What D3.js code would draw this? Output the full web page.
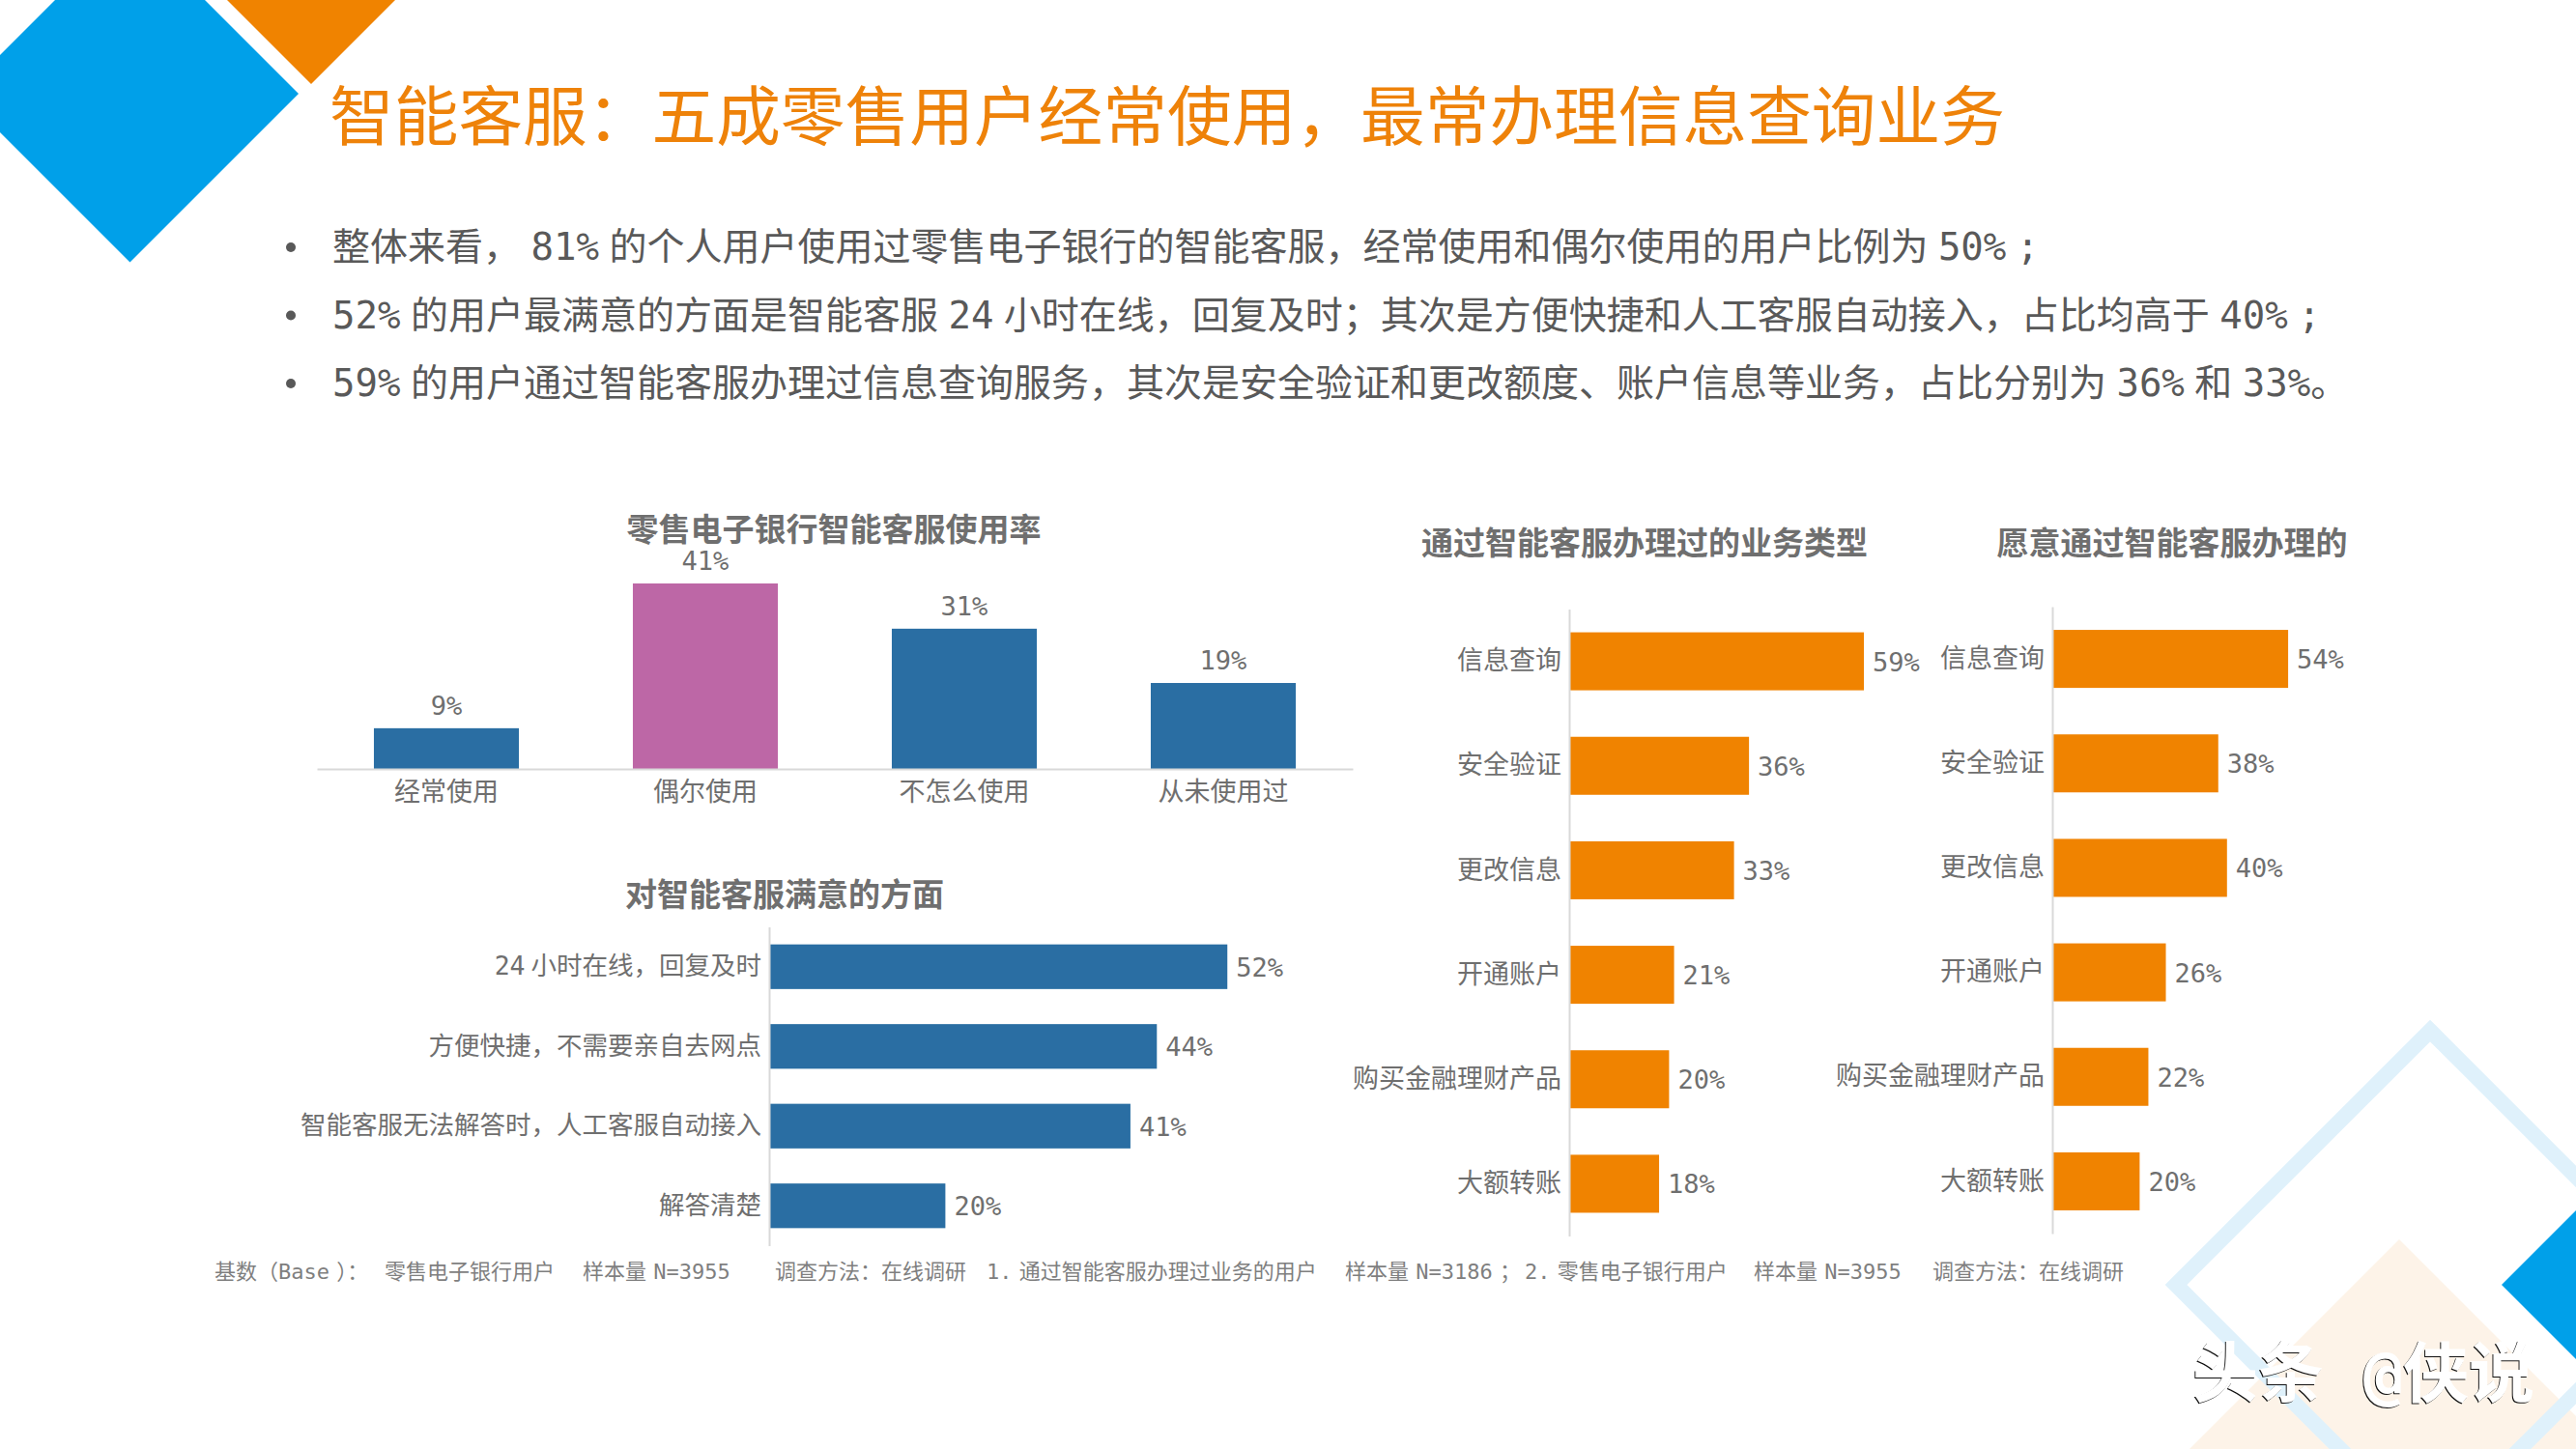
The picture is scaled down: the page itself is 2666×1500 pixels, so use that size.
<!DOCTYPE html>
<html>
<head>
<meta charset="utf-8">
<script src="https://cdn.jsdelivr.net/npm/d3@7"></script>
<style>
body { margin: 0; background: #fff; }
svg { display: block; }
text { font-family: "DejaVu Sans Mono", "Noto Sans CJK SC", sans-serif; white-space: pre; }
</style>
</head>
<body>
<div id="canvasArea"></div>
<script>
var titleText = "智能客服：五成零售用户经常使用，最常办理信息查询业务";
var bulletLines = [
	"整体来看， 81% 的个人用户使用过零售电子银行的智能客服，经常使用和偶尔使用的用户比例为 50% ;",
	"52% 的用户最满意的方面是智能客服 24 小时在线，回复及时；其次是方便快捷和人工客服自动接入，占比均高于 40% ;",
	"59% 的用户通过智能客服办理过信息查询服务，其次是安全验证和更改额度、账户信息等业务，占比分别为 36% 和 33%。"
];
var noteParts = [
	"基数（Base ）：",
	"零售电子银行用户",
	"样本量 N=3955",
	"调查方法：在线调研",
	"1. 通过智能客服办理过业务的用户",
	"样本量 N=3186 ；",
	"2. 零售电子银行用户",
	"样本量 N=3955",
	"调查方法：在线调研"
];

var usageCats = ["经常使用", "偶尔使用", "不怎么使用", "从未使用过"];
var usageVals = [9, 41, 31, 19];

var satisfyCats = ["24 小时在线，回复及时", "方便快捷，不需要亲自去网点", "智能客服无法解答时，人工客服自动接入", "解答清楚"];
var satisfyVals = [52, 44, 41, 20];

var bizCats = ["信息查询", "安全验证", "更改信息", "开通账户", "购买金融理财产品", "大额转账"];
var doneVals = [59, 36, 33, 21, 20, 18];
var willVals = [54, 38, 40, 26, 22, 20];

var width = 2666, height = 1500;
var BLUE = "#2a6ea3", PINK = "#bd67a6", ORANGE = "#f08300", SKY = "#00a0e9";
var GREY = "#6f6f6f", DARK = "#595959", AXIS = "#d9d9d9";
var MONO = "\"DejaVu Sans Mono\", \"Noto Sans CJK SC\", sans-serif";

var svg = d3.select("#canvasArea").append("svg")
	.attr("width", width)
	.attr("height", height);

function diamond(cx, cy, r) {
	return [[cx, cy - r], [cx + r, cy], [cx, cy + r], [cx - r, cy]].join(" ");
}

// background shapes
var deco = svg.append("g");
deco.append("polygon").attr("points", diamond(2483, 1533, 250)).attr("fill", "#fdf3e8");
deco.append("polygon").attr("points", diamond(2515, 1330, 263))
	.attr("fill", "none").attr("stroke", "#dff1fb").attr("stroke-width", 16);
deco.append("polygon").attr("points", diamond(2669, 1330, 80)).attr("fill", SKY);
deco.append("polygon").attr("points", diamond(134.5, 97, 174.5)).attr("fill", SKY);
deco.append("polygon").attr("points", diamond(322, -88, 175)).attr("fill", ORANGE);

svg.append("text")
	.attr("x", 341).attr("y", 145)
	.attr("font-size", 66.7)
	.attr("fill", "#ee8209")
	.text(titleText);

var bullets = svg.append("g").selectAll("g")
	.data(bulletLines)
	.enter().append("g")
	.attr("transform", function(d, i) { return "translate(0," + (269 + i * 70.5) + ")"; });

bullets.append("circle").attr("cx", 301).attr("cy", -13).attr("r", 5).attr("fill", DARK);
bullets.append("text")
	.attr("x", 344)
	.attr("font-size", 39)
	.attr("word-spacing", -13)
	.attr("fill", DARK)
	.text(function(d) { return d; });

function subTitle(text, cx, y) {
	svg.append("text")
		.attr("x", cx).attr("y", y)
		.attr("text-anchor", "middle")
		.attr("font-size", 33)
		.attr("font-weight", "bold")
		.attr("fill", GREY)
		.text(text);
}

subTitle("零售电子银行智能客服使用率", 863, 560);
subTitle("对智能客服满意的方面", 812, 938);
subTitle("通过智能客服办理过的业务类型", 1702, 574);
subTitle("愿意通过智能客服办理的", 2248, 574);

function styleAxis(g, size) {
	g.select(".domain").attr("stroke", AXIS).attr("stroke-width", 2);
	g.selectAll("text")
		.attr("font-size", size)
		.attr("font-family", MONO)
		.attr("word-spacing", -10)
		.attr("fill", GREY);
}

function columnChart(cats, vals) {
	var x = d3.scaleBand().domain(cats).range([328, 1400]).paddingInner(0.44).paddingOuter(0.22);
	var y = d3.scaleLinear().domain([0, 41]).range([796, 604]);
	var g = svg.append("g");

	g.selectAll("rect")
		.data(vals)
		.enter().append("rect")
		.attr("x", function(d, i) { return x(cats[i]); })
		.attr("y", function(d) { return y(d); })
		.attr("width", x.bandwidth())
		.attr("height", function(d) { return y(0) - y(d); })
		.attr("fill", function(d, i) { return i == 1 ? PINK : BLUE; });

	g.selectAll("text.val")
		.data(vals)
		.enter().append("text")
		.attr("class", "val")
		.attr("x", function(d, i) { return x(cats[i]) + x.bandwidth() / 2; })
		.attr("y", function(d) { return y(d) - 14; })
		.attr("text-anchor", "middle")
		.attr("font-size", 27)
		.attr("fill", GREY)
		.text(function(d) { return d + "%"; });

	var ax = g.append("g")
		.attr("transform", "translate(0,796)")
		.call(d3.axisBottom(x).tickSize(0).tickPadding(14));
	styleAxis(ax, 27);
}

function barChart(cats, vals, opt) {
	var x = d3.scaleLinear().domain([0, 60]).range([opt.x0, opt.x0 + opt.perCent * 60]);
	var y = d3.scaleBand().domain(cats).range([opt.y0, opt.y1])
		.paddingInner(opt.pad).paddingOuter(opt.pad / 2);
	var g = svg.append("g");

	g.selectAll("rect")
		.data(vals)
		.enter().append("rect")
		.attr("x", opt.x0)
		.attr("y", function(d, i) { return y(cats[i]); })
		.attr("width", function(d) { return x(d) - opt.x0; })
		.attr("height", y.bandwidth())
		.attr("fill", opt.color);

	g.selectAll("text.val")
		.data(vals)
		.enter().append("text")
		.attr("class", "val")
		.attr("x", function(d) { return x(d) + 9; })
		.attr("y", function(d, i) { return y(cats[i]) + y.bandwidth() / 2 + 10; })
		.attr("font-size", 27)
		.attr("fill", GREY)
		.text(function(d) { return d + "%"; });

	var ax = g.append("g")
		.attr("transform", "translate(" + opt.x0 + ",0)")
		.call(d3.axisLeft(y).tickSize(0).tickPadding(8));
	styleAxis(ax, opt.labelSize);
}

columnChart(usageCats, usageVals);
barChart(satisfyCats, satisfyVals, { x0: 796, perCent: 9.12, y0: 959.5, y1: 1289.5, pad: 0.44, color: BLUE, labelSize: 26.5 });
barChart(bizCats, doneVals, { x0: 1624, perCent: 5.17, y0: 630.5, y1: 1279.5, pad: 0.445, color: ORANGE, labelSize: 27 });
barChart(bizCats, willVals, { x0: 2124, perCent: 4.52, y0: 628, y1: 1277, pad: 0.445, color: ORANGE, labelSize: 27 });

// footnote pieces sit at fixed starts along one line
var noteX = [222, 398, 603, 802, 1021, 1392, 1578, 1815, 2000];
svg.append("g").selectAll("text")
	.data(noteParts)
	.enter().append("text")
	.attr("x", function(d, i) { return noteX[i]; })
	.attr("y", 1324)
	.attr("font-size", 22)
	.attr("word-spacing", -6)
	.attr("fill", "#7f7f7f")
	.text(function(d) { return d; });

// watermark, white copy gives the broken emboss look
var markFont = "\"Noto Sans CJK SC\", sans-serif";
svg.append("text")
	.attr("x", 2268).attr("y", 1447)
	.attr("font-size", 68)
	.attr("font-family", markFont)
	.attr("font-weight", "bold")
	.attr("fill", "#111")
	.text("头条 @侠说");
svg.append("text")
	.attr("x", 2269).attr("y", 1446)
	.attr("font-size", 68)
	.attr("font-family", markFont)
	.attr("font-weight", "bold")
	.attr("fill", "#ffffff")
	.text("头条 @侠说");
</script>
</body>
</html>
